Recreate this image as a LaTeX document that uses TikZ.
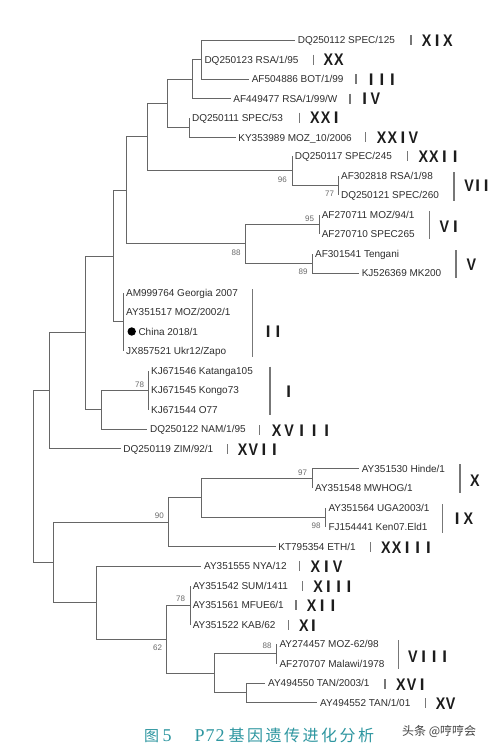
\documentclass[tikz,border=0pt]{standalone}
\usepackage{fontspec}
\usepackage{graphicx}
\setmainfont{Liberation Sans}
\newfontfamily\cjkf{Noto Sans CJK SC}
\newfontfamily\serf{Liberation Serif}
\definecolor{brcol}{HTML}{666666}
\definecolor{leafcol}{HTML}{2E2E2E}
\definecolor{bscol}{HTML}{6A6A6A}
\definecolor{rncol}{HTML}{1C1C1C}
\definecolor{barcol}{HTML}{777777}
\definecolor{capcol}{RGB}{45,150,160}
\definecolor{wmcol}{HTML}{444444}
\newdimen\cellw
\def\rglyph#1{\ifx#1I#1\else\scalebox{0.85}[1]{#1}\fi}
\def\cellloop#1{\ifx\relax#1\else\makebox[\cellw][c]{\rglyph{#1}}\expandafter\cellloop\fi}
\newcommand\rn[2][10.6pt]{{\cellw=#1\relax\cellloop#2\relax}}
\def\cjkloop#1{\ifx\relax#1\else\makebox[\cellw][l]{#1}\expandafter\cjkloop\fi}
\newcommand\cjkcells[2]{{\cellw=#1\relax\cjkloop#2\relax}}
\begin{document}
\begin{tikzpicture}[x=1pt,y=-1pt,
  br/.style={draw=brcol,line width=1pt},
  cbar/.style={draw=barcol,line width=1.2pt},
  leaf/.style={anchor=west,inner xsep=2.6pt,inner ysep=0pt,text height=7.2pt,text depth=0pt,font=\fontsize{10}{12}\selectfont,text=leafcol},
  bs/.style={anchor=east,inner sep=0pt,text height=5.7pt,text depth=0pt,font=\fontsize{8}{8}\selectfont,text=bscol},
  rnum/.style={anchor=west,inner sep=0pt,text height=12pt,text depth=0pt,font=\fontsize{16.8}{17}\selectfont\bfseries,text=rncol}]
\fill[white] (0,0) rectangle (491,748);
\useasboundingbox (0,0) rectangle (491,748);
% internal nodes
\coordinate (A) at (201.7,59.5);
\coordinate (B) at (192.7,79);
\coordinate (C) at (189.3,127.25);
\coordinate (D) at (167.7,103.1);
\coordinate (Z) at (338.3,185.25);
\coordinate (F) at (292,170.6);
\coordinate (E) at (147.7,136.9);
\coordinate (N6) at (319,224.25);
\coordinate (N5) at (312.3,263.25);
\coordinate (H) at (245.7,243.75);
\coordinate (G) at (126,190.3);
\coordinate (N2) at (123.3,321.75);
\coordinate (I) at (113.3,256);
\coordinate (L) at (148.3,390);
\coordinate (K) at (101.7,409.5);
\coordinate (J) at (85.7,332.75);
\coordinate (M) at (49.3,390.6);
\coordinate (Q) at (312.3,478.25);
\coordinate (R) at (325.7,517.25);
\coordinate (P) at (201.7,497.75);
\coordinate (N) at (168.3,522.1);
\coordinate (U) at (190,605);
\coordinate (W) at (276.7,653.75);
\coordinate (X) at (246,692.75);
\coordinate (V) at (214,673.25);
\coordinate (T) at (166.7,639.1);
\coordinate (S) at (96.7,602.6);
\coordinate (O) at (53.3,562.3);
\coordinate (root) at (33.3,476.5);
% leaves
\node[leaf] (l1) at (295,40) {DQ250112 SPEC/125};
\node[leaf] (l2) at (201.7,59.5) {DQ250123 RSA/1/95};
\node[leaf] (l3) at (249,79) {AF504886 BOT/1/99};
\node[leaf] (l4) at (230.6,98.5) {AF449477 RSA/1/99/W};
\node[leaf] (l5) at (189.3,118) {DQ250111 SPEC/53};
\node[leaf] (l6) at (235.6,137.5) {KY353989 MOZ\_10/2006};
\node[leaf] (l7) at (292,156) {DQ250117 SPEC/245};
\node[leaf] (l8) at (338.3,175.5) {AF302818 RSA/1/98};
\node[leaf] (l9) at (338.3,195) {DQ250121 SPEC/260};
\node[leaf] (l10) at (319,214.5) {AF270711 MOZ/94/1};
\node[leaf] (l11) at (319,234) {AF270710 SPEC265};
\node[leaf] (l12) at (312.3,253.5) {AF301541 Tengani};
\node[leaf] (l13) at (359,273) {KJ526369 MK200};
\node[leaf] (l14) at (123.3,292.5) {AM999764 Georgia 2007};
\node[leaf] (l15) at (123.3,312) {AY351517 MOZ/2002/1};
\node[leaf] (l16) at (123.3,331.5) {\hspace{12.4pt}China 2018/1};
\node[leaf] (l17) at (123.3,351) {JX857521 Ukr12/Zapo};
\node[leaf] (l18) at (148.3,370.5) {KJ671546 Katanga105};
\node[leaf] (l19) at (148.3,390) {KJ671545 Kongo73};
\node[leaf] (l20) at (148.3,409.5) {KJ671544 O77};
\node[leaf] (l21) at (147.3,429) {DQ250122 NAM/1/95};
\node[leaf] (l22) at (120.6,448.5) {DQ250119 ZIM/92/1};
\node[leaf] (l23) at (359,468.5) {AY351530 Hinde/1};
\node[leaf] (l24) at (312.3,488) {AY351548 MWHOG/1};
\node[leaf] (l25) at (325.7,507.5) {AY351564 UGA2003/1};
\node[leaf] (l26) at (325.7,527) {FJ154441 Ken07.Eld1};
\node[leaf] (l27) at (275.6,546.5) {KT795354 ETH/1};
\node[leaf] (l28) at (201.3,566) {AY351555 NYA/12};
\node[leaf] (l29) at (190,585.5) {AY351542 SUM/1411};
\node[leaf] (l30) at (190,605) {AY351561 MFUE6/1};
\node[leaf] (l31) at (190,624.5) {AY351522 KAB/62};
\node[leaf] (l32) at (276.7,644) {AY274457 MOZ-62/98};
\node[leaf] (l33) at (276.7,663.5) {AF270707 Malawi/1978};
\node[leaf] (l34) at (265.3,683) {AY494550 TAN/2003/1};
\node[leaf] (l35) at (317.3,702.5) {AY494552 TAN/1/01};
\node[circle,fill=black,inner sep=0pt,minimum size=8.4pt] (dot) at (131.7,331.5) {};
% branches
\draw[br] (A) |- (l1.west) (A) |- (l2.west) (A) |- (l3.west);
\draw[br] (B) |- (A) (B) |- (l4.west);
\draw[br] (C) |- (l5.west) (C) |- (l6.west);
\draw[br] (D) |- (B) (D) |- (C);
\draw[br] (Z) |- (l8.west) (Z) |- (l9.west);
\draw[br] (F) |- (l7.west) (F) |- (Z);
\draw[br] (E) |- (D) (E) |- (F);
\draw[br] (N6) |- (l10.west) (N6) |- (l11.west);
\draw[br] (N5) |- (l12.west) (N5) |- (l13.west);
\draw[br] (H) |- (N6) (H) |- (N5);
\draw[br] (G) |- (E) (G) |- (H);
\draw[br] (N2) |- (l14.west) (N2) |- (l15.west) (N2) |- (l16.west) (N2) |- (l17.west);
\draw[br] (I) |- (G) (I) |- (N2);
\draw[br] (L) |- (l18.west) (L) |- (l19.west) (L) |- (l20.west);
\draw[br] (K) |- (L) (K) |- (l21.west);
\draw[br] (J) |- (I) (J) |- (K);
\draw[br] (M) |- (J) (M) |- (l22.west);
\draw[br] (Q) |- (l23.west) (Q) |- (l24.west);
\draw[br] (R) |- (l25.west) (R) |- (l26.west);
\draw[br] (P) |- (Q) (P) |- (R);
\draw[br] (N) |- (P) (N) |- (l27.west);
\draw[br] (U) |- (l29.west) (U) |- (l30.west) (U) |- (l31.west);
\draw[br] (W) |- (l32.west) (W) |- (l33.west);
\draw[br] (X) |- (l34.west) (X) |- (l35.west);
\draw[br] (V) |- (W) (V) |- (X);
\draw[br] (T) |- (U) (T) |- (V);
\draw[br] (S) |- (l28.west) (S) |- (T);
\draw[br] (O) |- (N) (O) |- (S);
\draw[br] (root) |- (M) (root) |- (O);
% bootstrap values
\node[bs] (b96) at (287,179.3) {96};
\node[bs] (b77) at (334.3,193.5) {77};
\node[bs] (b95) at (314.3,219) {95};
\node[bs] (b88a) at (240.7,252.3) {88};
\node[bs] (b89) at (307.7,271.7) {89};
\node[bs] (b78a) at (144.3,384.3) {78};
\node[bs] (b97) at (307.3,472.3) {97};
\node[bs] (b90) at (164,516) {90};
\node[bs] (b98) at (320.7,526) {98};
\node[bs] (b78b) at (185.3,599) {78};
\node[bs] (b62) at (162.3,647.3) {62};
\node[bs] (b88b) at (271.7,646) {88};
% clade bars
\draw[cbar] (411,35) -- (411,45);
\draw[cbar] (313.3,54.5) -- (313.3,64.5);
\draw[cbar] (356,74) -- (356,84);
\draw[cbar] (350,93.5) -- (350,103.5);
\draw[cbar] (299.3,112.5) -- (299.3,122.5);
\draw[cbar] (365.7,132) -- (365.7,142);
\draw[cbar] (407.3,151) -- (407.3,161);
\draw[cbar] (454,172) -- (454,201);
\draw[cbar] (429.3,211) -- (429.3,239);
\draw[cbar] (456,250) -- (456,278);
\draw[cbar] (252.3,289) -- (252.3,357.3);
\draw[cbar] (270,366.7) -- (270,415);
\draw[cbar] (259.3,425) -- (259.3,435);
\draw[cbar] (227.7,444) -- (227.7,454);
\draw[cbar] (460,464.3) -- (460,493.3);
\draw[cbar] (442.3,504) -- (442.3,532.7);
\draw[cbar] (370.7,542) -- (370.7,552);
\draw[cbar] (299.3,561) -- (299.3,571);
\draw[cbar] (302.3,581) -- (302.3,591);
\draw[cbar] (296,600) -- (296,610);
\draw[cbar] (288.7,620) -- (288.7,630);
\draw[cbar] (398.3,640) -- (398.3,669);
\draw[cbar] (385,679) -- (385,689);
\draw[cbar] (425.7,698) -- (425.7,708);
% roman numerals
\node[rnum] (r19) at (421.2,40) {\rn{XIX}};
\node[rnum] (r20) at (322.8,59.5) {\rn{XX}};
\node[rnum] (r3) at (365.8,79) {\rn{III}};
\node[rnum] (r4) at (359.2,98.5) {\rn{IV}};
\node[rnum] (r21) at (309.5,117.5) {\rn{XXI}};
\node[rnum] (r24) at (376.2,137) {\rn{XXIV}};
\node[rnum] (r22) at (417.8,156) {\rn{XXII}};
\node[rnum] (r7) at (464.6,185.5) {\rn[8.6pt]{VII}};
\node[rnum] (r6) at (438.5,226) {\rn[11.2pt]{VI}};
\node[rnum] (r5) at (465.9,264) {\rn{V}};
\node[rnum] (r2) at (263.2,331.7) {\rn[9.7pt]{II}};
\node[rnum] (r1) at (283.2,391.7) {\rn{I}};
\node[rnum] (r18) at (270.2,430) {\rn[12.5pt]{XVIII}};
\node[rnum] (r17) at (237.2,449) {\rn{XVII}};
\node[rnum] (r10) at (469.5,480) {\rn{X}};
\node[rnum] (r9) at (451.5,518.3) {\rn[11.2pt]{IX}};
\node[rnum] (r23) at (380.5,547) {\rn{XXIII}};
\node[rnum] (r14) at (309.5,566) {\rn[11.2pt]{XIV}};
\node[rnum] (r13) at (312.8,586) {\rn[10.3pt]{XIII}};
\node[rnum] (r12) at (306.2,605) {\rn{XII}};
\node[rnum] (r11) at (298.8,625) {\rn[9.6pt]{XI}};
\node[rnum] (r8) at (407.5,656.7) {\rn{VIII}};
\node[rnum] (r16) at (395.5,684) {\rn{XVI}};
\node[rnum] (r15) at (435.5,703) {\rn[9.9pt]{XV}};
% caption and watermark
\node[anchor=west,inner sep=0pt,text height=14pt,text depth=2pt,text=capcol] (cap) at (144,735)
  {\makebox[18.5pt][l]{\cjkf\fontsize{15}{15}\selectfont 图}\makebox[32pt][l]{\serf\fontsize{18}{18}\selectfont 5}{\serf\fontsize{18}{18}\selectfont P\kern1pt7\kern1pt2}\hspace{4pt}{\cjkf\fontsize{16}{16}\selectfont\cjkcells{18.5pt}{基因遗传进化分析}}};
\node[anchor=west,inner sep=0pt,text=wmcol,font=\cjkf\fontsize{12}{12}\selectfont] (wm) at (402,731) {头条 @哼哼会};
\end{tikzpicture}
\end{document}
